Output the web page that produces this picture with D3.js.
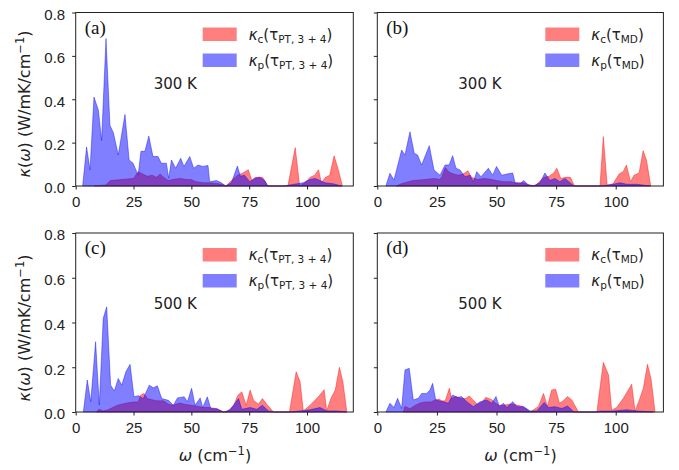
<!DOCTYPE html>
<html>
<head>
<meta charset="utf-8">
<script src="https://cdn.jsdelivr.net/npm/d3@7"></script>
<style>
  body { margin: 0; background: #fff; }
  svg { display: block; font-family: "DejaVu Sans", sans-serif; }
  .tick text { font-size: 15px; fill: #222; }
  .tick line { stroke: #222; }
</style>
</head>
<body>
<div id="chart"></div>
<script>
// omega (cm^-1), kappa (W/mK/cm^-1) pairs
// (a) 300 K, tau_PT,3+4
const aC = [[8,0],[13,0.005],[15,0.025],[20,0.03],[25,0.035],[27,0.066],[29,0.055],[31,0.045],[33,0.05],[35,0.04],[36.5,0.055],[38,0.04],[40,0.025],[42,0.03],[45,0.035],[48,0.03],[50,0.03],[52,0.02],[55,0.015],[58,0.015],[62,0.01],[64,0.005],[65,0],
  [66.3,0.015],[70,0.05],[72.2,0.06],[74.6,0.075],[76.2,0.025],[77.6,0.04],[80.8,0.04],[83,0],
  [91.7,0],[94.9,0.177],[96.8,0],[99,0.015],[101.4,0.04],[103.3,0.05],[105,0.075],[106.2,0.015],[108,0.04],[109.8,0.05],[111.7,0.139],[113.4,0.08],[115.3,0]];
const aP = [[3,0],[4.7,0.18],[6.2,0.074],[7.9,0.41],[9.8,0.35],[11.2,0.21],[13.1,0.68],[14.8,0.28],[16.3,0.245],[18.4,0.143],[21.3,0.33],[23.1,0.12],[24.8,0.105],[27,0.05],[28.2,0.16],[29.9,0.16],[31.6,0.23],[33.4,0.136],[35.6,0.136],[37,0.105],[39.2,0.105],[40.2,0.036],[41.4,0.12],[43.2,0.082],[45.4,0.128],[46.8,0.09],[49.3,0.136],[51,0.082],[52.9,0.097],[55,0.09],[57.2,0.095],[57.9,0.02],[60.8,0.025],[63,0.015],[64.8,0],
  [67.3,0.015],[69.9,0.092],[71.2,0.045],[73,0.05],[75.2,0.02],[77.4,0.035],[79.5,0.04],[81.7,0.025],[83.1,0],
  [90,0],[92.6,0.005],[98.4,0.015],[101.3,0.03],[103.5,0.035],[105.6,0.025],[107.8,0.015],[111.4,0.01],[115,0]];
// (b) 300 K, tau_MD
const bC = [[8,0],[10,0.01],[13,0.02],[15,0.025],[20,0.03],[24,0.035],[26,0.03],[27,0.04],[28.5,0.085],[30,0.065],[32,0.055],[34,0.05],[36,0.055],[38,0.07],[39.5,0.04],[42,0.03],[45,0.035],[48,0.03],[50,0.025],[53,0.02],[56,0.02],[58,0.015],[61,0.015],[64,0.005],[66,0],
  [68,0.02],[70,0.04],[72,0.045],[74,0.06],[75.3,0.082],[77,0.035],[79,0.04],[81,0.04],[82.7,0],
  [93.4,0],[94.8,0.228],[96.4,0.005],[98.9,0.01],[101.4,0.055],[103.1,0.066],[104.5,0.097],[106.2,0.02],[107.7,0.05],[109.8,0.06],[111.5,0.163],[112.9,0.12],[114.7,0]];
const bP = [[3.6,0],[5.3,0.059],[7,0.028],[10.2,0.166],[11.6,0.143],[13.7,0.25],[15.5,0.151],[16.9,0.143],[18.6,0.097],[20,0.136],[21.8,0.186],[23.8,0.074],[26.3,0.05],[28.4,0.097],[30.1,0.097],[31.6,0.14],[33,0.082],[34.7,0.074],[36.8,0.043],[38.9,0.05],[40.3,0.02],[41.7,0.066],[43.5,0.043],[46.6,0.082],[48.4,0.05],[50,0.09],[52.2,0.05],[54.3,0.055],[56.8,0.06],[57.8,0.015],[59.9,0.012],[61.5,0.025],[63.3,0.005],[65.4,0],
  [68.2,0.015],[70.3,0.06],[72.4,0.025],[74.5,0.035],[76.6,0.02],[78.7,0.035],[80.8,0.015],[82.5,0],
  [94,0],[97.6,0.005],[101.8,0.015],[104.6,0.008],[108.8,0.008],[114.5,0]];
// (c) 500 K, tau_PT,3+4
const cC = [[9,0],[10,0.012],[12,0.005],[14,0.01],[16,0.02],[18,0.03],[20,0.035],[22,0.04],[25,0.045],[27,0.045],[28,0.075],[29.5,0.083],[31,0.06],[33,0.055],[35,0.05],[38,0.05],[40,0.035],[42,0.03],[45,0.04],[47,0.035],[50,0.03],[53,0.025],[55,0.02],[58,0.02],[61,0.015],[63,0.005],[64,0],
  [65.3,0],[68.3,0.03],[70.1,0.075],[71.8,0.09],[73.7,0.03],[75.4,0.098],[76.9,0.052],[79,0.035],[80.7,0.06],[82.6,0.035],[85.5,0],
  [92.4,0],[95.3,0.18],[97,0.135],[98.4,0.005],[101.3,0.03],[104.9,0.068],[107.4,0.1],[108.5,0.005],[110.3,0.06],[112.2,0.098],[114,0.2],[115.5,0.135],[117.2,0]];
const cP = [[3.3,0],[5,0.143],[6.5,0.046],[8.6,0.314],[10.2,0.031],[11.9,0.419],[13.4,0.47],[15.1,0.12],[16.7,0.094],[18.4,0.15],[19.9,0.12],[21.7,0.18],[23.5,0.213],[25.2,0.068],[27.1,0.073],[29.2,0.06],[31.8,0.12],[33.6,0.108],[35.3,0.117],[37.2,0.06],[40.1,0.052],[42.2,0.03],[44,0.063],[46.9,0.068],[48.3,0.046],[50.1,0.106],[51.6,0.03],[53.8,0.063],[54.9,0.02],[56.9,0.068],[58.4,0.015],[61,0.015],[63.9,0],
  [66.8,0.01],[70.4,0.06],[71.8,0.012],[75.4,0.02],[78.3,0.012],[80.7,0.03],[83.3,0.005],[85.5,0],
  [93.4,0],[97,0.005],[101.3,0.01],[105.6,0.02],[108.5,0.005],[112.8,0.005],[117.1,0]];
// (d) 500 K, tau_MD
const dC = [[10.9,0],[11.6,0.025],[13.7,0.015],[16,0.03],[18,0.04],[20,0.045],[22.5,0.045],[24.5,0.055],[26,0.058],[27,0.05],[28.5,0.05],[30.2,0.106],[31.2,0.06],[33,0.07],[35,0.06],[37,0.06],[38.6,0.072],[40.5,0.05],[42,0.035],[44,0.045],[45.5,0.066],[48,0.055],[49.5,0.04],[51,0.03],[53,0.03],[55,0.035],[57,0.035],[59,0.03],[61,0.025],[63,0.01],[64.1,0],
  [67.6,0.025],[69.7,0.083],[71.4,0.025],[73.1,0.098],[74.8,0.102],[76.4,0.039],[78,0.05],[79.8,0.069],[81.6,0.054],[84.4,0],
  [92.1,0],[94.8,0.222],[97,0.165],[98.3,0.008],[100.4,0.02],[103.2,0.061],[106.7,0.124],[108.1,0.005],[109.9,0.054],[111.6,0.106],[113.3,0.213],[114.8,0.15],[116.5,0]];
const dP = [[3.6,0],[5.3,0.039],[7,0.02],[8.5,0.061],[10.2,0.016],[11.6,0.188],[13.4,0.195],[15.1,0.054],[17.2,0.061],[18.6,0.083],[20.7,0.083],[22.1,0.098],[23.2,0.128],[24.5,0.054],[27.7,0.046],[29.8,0.039],[31.6,0.076],[33.6,0.065],[35.4,0.069],[37.5,0.046],[40.3,0.024],[43.1,0.046],[45.9,0.054],[48,0.039],[49.8,0.069],[51.2,0.024],[52.9,0.039],[54.3,0.02],[56.8,0.046],[58.5,0.024],[61.3,0.024],[64.1,0.005],[66.9,0.005],[70,0.043],[71.8,0.02],[74.5,0.024],[77.4,0.016],[79.8,0.027],[82.5,0],
  [92,0],[93.4,0.004],[99,0.004],[104.6,0.01],[108.8,0.005],[115.8,0]];

const xTicks = [0, 25, 50, 75, 100];
const yTicks = [0, 0.2, 0.4, 0.6, 0.8];
const panelLabels = ['(a)', '(b)', '(c)', '(d)'];
const tempLabels = ['300 K', '300 K', '500 K', '500 K'];
const tauLabels = ['PT, 3 + 4', 'MD', 'PT, 3 + 4', 'MD'];

const W = 679, H = 470;
const svg = d3.select('#chart').append('svg').attr('width', W).attr('height', H);

const panels = [
  { x0: 75.7, x1: 353.3, y0: 12.5, y1: 186, c: aC, p: aP, yl: true },
  { x0: 377.3, x1: 663.4, y0: 12.5, y1: 186, c: bC, p: bP, yl: false },
  { x0: 75.7, x1: 353.3, y0: 233, y1: 412, c: cC, p: cP, yl: true },
  { x0: 377.3, x1: 663.4, y0: 233, y1: 412, c: dC, p: dP, yl: false }
];

const red = 'rgba(255,0,0,0.5)', blue = 'rgba(0,0,255,0.5)';

panels.forEach((pn, i) => {
  const x = d3.scaleLinear().domain([0, 120]).range([pn.x0, pn.x1]);
  const y = d3.scaleLinear().domain([0, 0.8]).range([pn.y1, pn.y0]);
  const g = svg.append('g');

  const area = d3.area().x(d => x(d[0])).y0(y(0)).y1(d => y(d[1]));

  g.append('path').datum(pn.c).attr('d', area)
    .attr('fill', red).attr('stroke', red).attr('stroke-width', 0.8);
  g.append('path').datum(pn.p).attr('d', area)
    .attr('fill', blue).attr('stroke', blue).attr('stroke-width', 0.8);

  // frame
  g.append('rect').attr('x', pn.x0).attr('y', pn.y0)
    .attr('width', pn.x1 - pn.x0).attr('height', pn.y1 - pn.y0)
    .attr('fill', 'none').attr('stroke', '#222').attr('stroke-width', 1);

  const xa = g.append('g').attr('transform', `translate(0,${pn.y1})`)
    .call(d3.axisBottom(x).tickValues(xTicks).tickSize(3.5).tickPadding(7));
  xa.select('.domain').remove();

  const ya = g.append('g').attr('transform', `translate(${pn.x0},0)`)
    .call(d3.axisLeft(y).tickValues(yTicks).tickSize(3.5).tickPadding(7)
      .tickFormat(pn.yl ? d3.format('.1f') : ''));
  ya.select('.domain').remove();
  ya.selectAll('.tick text').attr('dy', '0.45em');

  // panel tag
  g.append('text').attr('x', pn.x0 + 9).attr('y', pn.y0 + 21)
    .style('font-family', '"Liberation Serif", "DejaVu Serif", serif')
    .style('font-size', '19px').attr('fill', '#111').text(panelLabels[i]);

  // temperature
  g.append('text').attr('x', pn.x0 + (i % 2 ? 81 : 78)).attr('y', pn.y0 + 76)
    .style('font-size', '15px').attr('fill', '#222').text(tempLabels[i]);

  // legend
  const lx = i % 2 ? pn.x0 + 168 : pn.x0 + 127;
  [[red, 'c'], [blue, 'p']].forEach((it, k) => {
    const ly = pn.y0 + 15 + k * 26;
    g.append('rect').attr('x', lx).attr('y', ly).attr('width', 34).attr('height', 13.5)
      .attr('fill', it[0]);
    const t = g.append('text').attr('x', lx + 46).attr('y', ly + 12)
      .style('font-size', '15px').attr('fill', '#222');
    t.append('tspan').style('font-style', 'italic').text('κ');
    t.append('tspan').attr('dy', 3).style('font-size', '10.5px').text(it[1]);
    t.append('tspan').attr('dy', -3).text('(τ');
    t.append('tspan').attr('dy', 3).style('font-size', '10.5px').text(tauLabels[i]);
    t.append('tspan').attr('dy', -3).text(')');
  });
});

// axis titles
[[215, 461], [520.5, 461]].forEach(p => {
  const t = svg.append('text').attr('x', p[0]).attr('y', p[1]).attr('text-anchor', 'middle')
    .style('font-size', '16px').attr('fill', '#222');
  t.append('tspan').style('font-style', 'italic').text('ω');
  t.append('tspan').text(' (cm');
  t.append('tspan').attr('dy', -6).style('font-size', '11.5px').text('−1');
  t.append('tspan').attr('dy', 6).text(')');
});
[104, 328].forEach(cy => {
  const t = svg.append('text').attr('transform', `translate(30,${cy}) rotate(-90)`)
    .attr('text-anchor', 'middle').style('font-size', '16px').attr('fill', '#222');
  t.append('tspan').style('font-style', 'italic').text('κ');
  t.append('tspan').text('(');
  t.append('tspan').style('font-style', 'italic').text('ω');
  t.append('tspan').text(') (W/mK/cm');
  t.append('tspan').attr('dy', -6).style('font-size', '11.5px').text('−1');
  t.append('tspan').attr('dy', 6).text(')');
});
</script>
</body>
</html>
